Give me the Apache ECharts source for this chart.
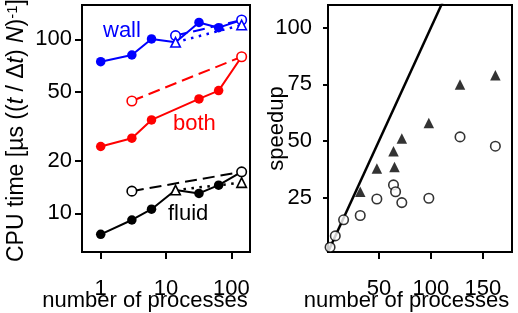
<!DOCTYPE html>
<html><head><meta charset="utf-8">
<script src="https://cdn.jsdelivr.net/npm/echarts@6/dist/echarts.min.js"></script>
<style>html,body{margin:0;padding:0;background:#fff}#c{width:518px;height:313px}</style>
</head><body><div id="c"></div>
<script>
// ---- Left panel: CPU time vs number of processes (log-log) ----
const procSolid = [1, 3, 6, 14, 32, 64, 144];
const wallSolid = [74.3, 81.2, 100.4, 96.1, 125, 116.6, 129];
const fluidSolid = [7.57, 9.15, 10.55, 13.6, 13.0, 14.5, 17.3];
const procBoth = [1, 3, 6, 32, 64, 144];
const bothSolid = [24.2, 27.0, 34.4, 45.4, 50.7, 79.4];

const procWallDashed = [14, 144];
const wallDashed = [105, 129];
const procDashed = [3, 144];
const bothDashed = [44.2, 79.4];
const fluidDashed = [13.4, 17.3];

const procDotted = [14, 144];
const wallDotted = [96.1, 120.8];
const fluidDotted = [13.6, 15.0];

const leftXTicks = [1, 10, 100];
const leftYTicks = [10, 20, 50, 100];

// ---- Right panel: speedup vs number of processes ----
const speedTriX = [32, 48, 64, 65, 72, 98, 128, 162];
const speedTriY = [27.6, 37.8, 45.5, 38.5, 51.1, 57.9, 74.9, 79.0];
const speedCircX = [3, 8, 16, 32, 48, 64, 66, 72, 98, 128, 162];
const speedCircY = [3.1, 8.1, 15.2, 17.1, 24.4, 30.6, 27.6, 22.8, 24.7, 51.8, 47.7];
const idealX = [1, 178];
const idealY = [1, 178];
const rightXTicks = [50, 100, 150];
const rightYTicks = [25, 50, 75, 100];

const FONT = '"Liberation Sans", Arial, sans-serif';
const BLUE = '#0000ff', RED = '#ff0000', BLACK = '#000000';

function pairs(xs, ys) { return xs.map((x, i) => [x, ys[i]]); }
function solidData(xs, ys, others) {
  return xs.map((x, i) => {
    const shared = others.some(o => o.some(p => p[0] === x && p[1] === ys[i]));
    return shared ? { value: [x, ys[i]], symbol: 'none' } : [x, ys[i]];
  });
}

const wallDashedP = pairs(procWallDashed, wallDashed);
const wallDottedP = pairs(procDotted, wallDotted);
const bothDashedP = pairs(procDashed, bothDashed);
const fluidDashedP = pairs(procDashed, fluidDashed);
const fluidDottedP = pairs(procDotted, fluidDotted);

function solidSeries(data, color) {
  return { type: 'line', xAxisIndex: 0, yAxisIndex: 0, data, symbol: 'circle', symbolSize: 9.5,
    lineStyle: { color, width: 2 }, itemStyle: { color }, z: 2 };
}
function dashedSeries(data, color) {
  return { type: 'line', xAxisIndex: 0, yAxisIndex: 0, data, symbol: 'circle', symbolSize: 9.5,
    lineStyle: { color, width: 2, type: [12, 6] },
    itemStyle: { color: '#fff', borderColor: color, borderWidth: 1.6 }, z: 3 };
}
function dottedSeries(data, color) {
  return { type: 'line', xAxisIndex: 0, yAxisIndex: 0, data, symbol: 'triangle', symbolSize: 9.5,
    lineStyle: { color, width: 2.5, type: [2.5, 5.5] },
    itemStyle: { color: '#fff', borderColor: color, borderWidth: 1.6 }, z: 3 };
}

const tickLabel = (margin) => ({ color: BLACK, fontSize: 22, fontFamily: FONT, margin });

const option = {
  animation: false,
  backgroundColor: '#fff',
  grid: [
    { left: 82, top: 5, width: 168, height: 247, show: true, borderColor: BLACK, borderWidth: 2,
      backgroundColor: 'transparent', containLabel: false, outerBoundsMode: 'none' },
    { left: 328, top: 5, width: 184, height: 247, show: true, borderColor: BLACK, borderWidth: 2,
      backgroundColor: 'transparent', containLabel: false, outerBoundsMode: 'none' }
  ],
  xAxis: [
    { type: 'log', logBase: 10, gridIndex: 0, min: 0.517, max: 193.4,
      axisLine: { show: false }, splitLine: { show: false },
      axisTick: { show: true, customValues: leftXTicks, length: 7, lineStyle: { color: BLACK, width: 2 } },
      axisLabel: Object.assign({ customValues: leftXTicks, formatter: v => String(Math.round(v)) }, tickLabel(26)),
      name: 'number of processes', nameLocation: 'middle', nameGap: 38, nameMoveOverlap: false,
      nameTextStyle: { color: BLACK, fontSize: 22, fontFamily: FONT, padding: [0, 42, 0, 0] } },
    { type: 'value', gridIndex: 1, min: 1, max: 178,
      axisLine: { show: false }, splitLine: { show: false },
      axisTick: { show: true, customValues: rightXTicks, length: 7, lineStyle: { color: BLACK, width: 2 } },
      axisLabel: Object.assign({ customValues: rightXTicks }, tickLabel(26)),
      name: 'number of processes', nameLocation: 'middle', nameGap: 38, nameMoveOverlap: false,
      nameTextStyle: { color: BLACK, fontSize: 22, fontFamily: FONT, padding: [0, 27, 0, 0] } }
  ],
  yAxis: [
    { type: 'log', logBase: 10, gridIndex: 0, min: 5.99, max: 157.4,
      axisLine: { show: false }, splitLine: { show: false },
      axisTick: { show: true, customValues: leftYTicks, length: 7, lineStyle: { color: BLACK, width: 2 } },
      axisLabel: Object.assign({ customValues: leftYTicks, formatter: v => String(Math.round(v)) }, tickLabel(10)),
      name: '{r|CPU time [µs ((}{i|t}{r| / Δ}{i|t}{r|) }{i|N}{r|)}{s|-1}{r|]}',
      nameLocation: 'middle', nameGap: 54, nameMoveOverlap: false,
      nameTextStyle: { color: BLACK, fontSize: 23, fontFamily: FONT, padding: [0, 4, 0, 0],
        rich: {
          r: { fontSize: 23, fontFamily: FONT, color: BLACK },
          i: { fontSize: 23, fontFamily: FONT, color: BLACK, fontStyle: 'italic' },
          s: { fontSize: 15, fontFamily: FONT, color: BLACK, verticalAlign: 'top' }
        } } },
    { type: 'value', gridIndex: 1, min: 1, max: 110,
      axisLine: { show: false }, splitLine: { show: false },
      axisTick: { show: true, customValues: rightYTicks, length: 5, lineStyle: { color: BLACK, width: 2 } },
      axisLabel: Object.assign({ customValues: rightYTicks }, tickLabel(16)),
      name: 'speedup', nameLocation: 'middle', nameGap: 40, nameMoveOverlap: false,
      nameTextStyle: { color: BLACK, fontSize: 22, fontFamily: FONT } }
  ],
  series: [
    solidSeries(solidData(procSolid, wallSolid, [wallDashedP, wallDottedP]), BLUE),
    solidSeries(solidData(procBoth, bothSolid, [bothDashedP]), RED),
    solidSeries(solidData(procSolid, fluidSolid, [fluidDashedP, fluidDottedP]), BLACK),
    dashedSeries(wallDashedP, BLUE),
    dottedSeries(wallDottedP, BLUE),
    dashedSeries(bothDashedP, RED),
    dashedSeries(fluidDashedP, BLACK),
    dottedSeries(fluidDottedP, BLACK),
    { type: 'line', xAxisIndex: 1, yAxisIndex: 1, data: pairs(idealX, idealY), showSymbol: false,
      symbol: 'none', clip: true, lineStyle: { color: BLACK, width: 2.5 }, z: 2 },
    { type: 'scatter', xAxisIndex: 1, yAxisIndex: 1, data: pairs(speedTriX, speedTriY),
      symbol: 'triangle', symbolSize: 10.5, itemStyle: { color: BLACK }, z: 3 },
    { type: 'scatter', xAxisIndex: 1, yAxisIndex: 1, data: pairs(speedCircX, speedCircY),
      symbol: 'circle', symbolSize: 9.5, itemStyle: { color: '#fff', borderColor: BLACK, borderWidth: 1.6 }, z: 3 }
  ],
  graphic: [
    { type: 'text', x: 103, y: 31, silent: true,
      style: { text: 'wall', fill: BLUE, font: '22px ' + FONT, textVerticalAlign: 'middle', verticalAlign: 'middle' } },
    { type: 'text', x: 173, y: 124, silent: true,
      style: { text: 'both', fill: RED, font: '22px ' + FONT, textVerticalAlign: 'middle', verticalAlign: 'middle' } },
    { type: 'text', x: 168, y: 214, silent: true,
      style: { text: 'fluid', fill: BLACK, font: '22px ' + FONT, textVerticalAlign: 'middle', verticalAlign: 'middle' } }
  ]
};

const chart = echarts.init(document.getElementById('c'), null, { renderer: 'canvas' });
chart.setOption(option);
</script>
</body></html>
